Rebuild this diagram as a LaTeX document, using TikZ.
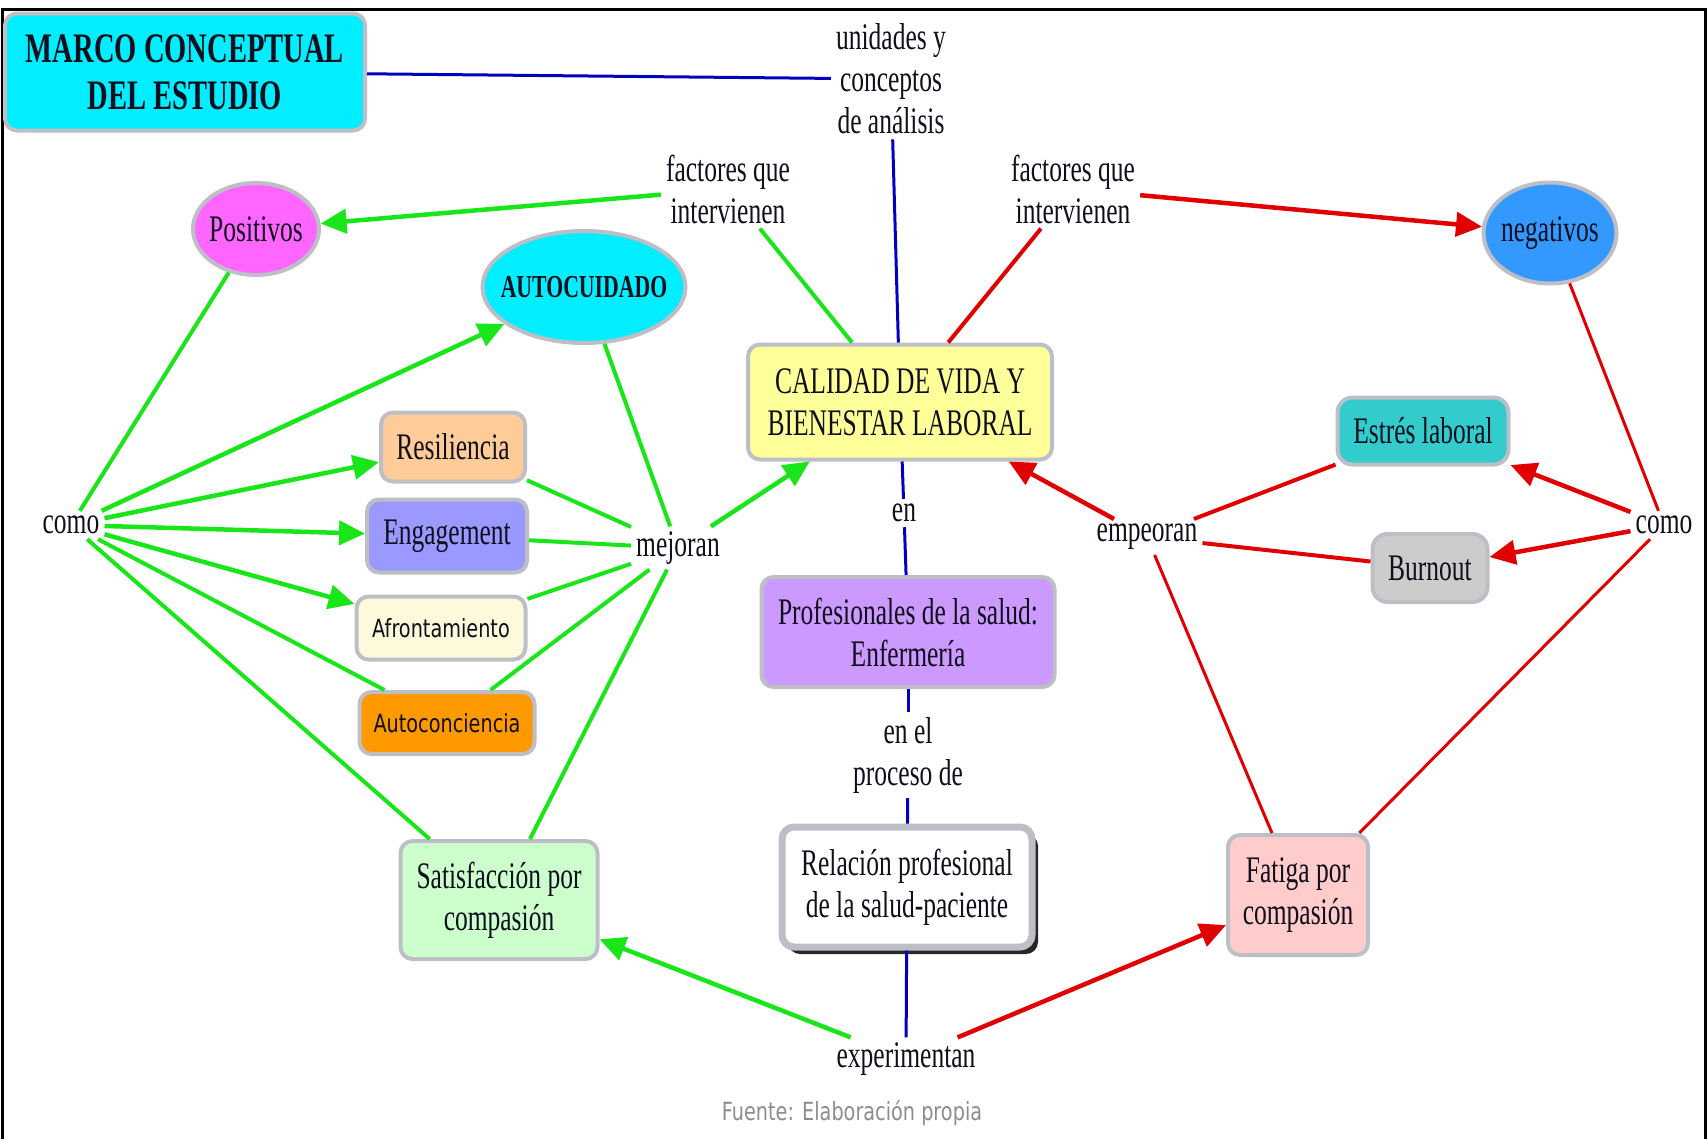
\documentclass[tikz,border=0pt]{standalone}
\usepackage{fontspec}
\setmainfont{Liberation Serif}[FakeStretch=0.68]
\newfontfamily\sansf{DejaVu Sans}[FakeStretch=0.77]
\usetikzlibrary{arrows.meta,shapes.geometric,shadows}

\definecolor{inkc}{RGB}{15,15,30}
\definecolor{edgec}{RGB}{190,190,198}
\definecolor{cyanc}{RGB}{0,238,255}
\definecolor{magc}{RGB}{255,102,255}
\definecolor{bluec}{RGB}{51,153,255}
\definecolor{yelc}{RGB}{255,255,153}
\definecolor{peachc}{RGB}{255,204,153}
\definecolor{lavc}{RGB}{153,153,255}
\definecolor{creamc}{RGB}{252,250,218}
\definecolor{orangec}{RGB}{255,153,0}
\definecolor{mintc}{RGB}{204,255,204}
\definecolor{purpc}{RGB}{204,153,255}
\definecolor{pinkc}{RGB}{255,204,204}
\definecolor{tealc}{RGB}{51,204,204}
\definecolor{grayc}{RGB}{204,204,204}
\definecolor{linkg}{RGB}{25,230,25}
\definecolor{linkr}{RGB}{225,0,0}
\definecolor{linkb}{RGB}{0,0,190}
\definecolor{fuentec}{RGB}{140,140,140}

\begin{document}
\begin{tikzpicture}[x=1pt,y=-1pt,
  lbl/.style={font=\fontsize{37.5}{42}\selectfont, text=inkc, align=center, inner sep=5pt},
  cbox/.style={lbl, draw=edgec, line width=4pt, rounded corners=12pt, inner sep=0pt},
  coval/.style={lbl, ellipse, draw=edgec, line width=4pt, inner sep=0pt},
  sanstxt/.style={font=\sansf\fontsize{25}{28}\selectfont},
  tipg/.style={-{Triangle[length=26pt,width=24pt]}},
  gl/.style={draw=linkg, line width=4pt},
  ga/.style={draw=linkg, line width=4.5pt, tipg},
  rl/.style={draw=linkr, line width=3pt},
  rlt/.style={draw=linkr, line width=4pt},
  ra/.style={draw=linkr, line width=4.5pt, tipg},
  bl/.style={draw=linkb, line width=3pt}
]
\useasboundingbox (0,0) rectangle (1708,1138);

% outer frame
\draw[line width=3pt] (2,1145) -- (2,9) -- (1705,9) -- (1705,1145);

% concepts
\node[cbox, fill=cyanc, minimum width=360pt, minimum height=117pt,
      font=\bfseries\fontsize{42}{47}\selectfont] (marco) at (185,72) {MARCO CONCEPTUAL\\DEL ESTUDIO};
\node[lbl] (unid) at (891,79) {unidades y\\conceptos\\de análisis};
\node[lbl] (facL) at (728,189) {factores que\\intervienen};
\node[lbl] (facR) at (1073,189) {factores que\\intervienen};
\node[coval, fill=magc, inner xsep=-4pt, minimum width=126pt, minimum height=92pt] (pos) at (256,229) {Positivos};
\node[coval, fill=bluec, inner xsep=-4pt, minimum width=133pt, minimum height=101pt] (neg) at (1550,233) {negativos};
\node[coval, fill=cyanc, inner xsep=-15pt, minimum width=203pt, minimum height=112pt,
      font=\bfseries\fontsize{32}{36}\selectfont] (auto) at (584,287) {AUTOCUIDADO};
\node[cbox, fill=yelc, minimum width=304pt, minimum height=115pt] (cal) at (900,402) {CALIDAD DE VIDA Y\\BIENESTAR LABORAL};
\node[lbl] (comoL) at (71,525) {como};
\node[cbox, fill=peachc, minimum width=144pt, minimum height=69pt] (resil) at (453,447) {Resiliencia};
\node[cbox, fill=lavc, minimum width=160pt, minimum height=73pt] (eng) at (447,536) {Engagement};
\node[cbox, fill=creamc, sanstxt, minimum width=169pt, minimum height=63pt] (afr) at (441,628) {Afrontamiento};
\node[cbox, fill=orangec, sanstxt, minimum width=175pt, minimum height=62pt] (autoc) at (447,723) {Autoconciencia};
\node[lbl] (mej) at (678,548) {mejoran};
\node[cbox, fill=mintc, minimum width=197pt, minimum height=118pt] (sat) at (499,900) {Satisfacción por\\compasión};
\node[lbl] (en) at (904,513) {en};
\node[cbox, fill=purpc, minimum width=293pt, minimum height=110pt] (prof) at (908,632) {Profesionales de la salud:\\Enfermería};
\node[lbl] (enel) at (908,755) {en el\\proceso de};
\node[cbox, fill=white, line width=7pt, minimum width=250pt, minimum height=120pt,
      drop shadow={shadow xshift=6pt, shadow yshift=-7pt, fill=black!85, opacity=1}] (rel) at (907,887) {Relación profesional\\de la salud-paciente};
\node[lbl] (exp) at (906,1059) {experimentan};
\node[cbox, fill=pinkc, minimum width=140pt, minimum height=120pt] (fat) at (1298,895) {Fatiga por\\compasión};
\node[lbl] (emp) at (1147,537) {empeoran};
\node[cbox, fill=tealc, minimum width=171pt, minimum height=67pt, rounded corners=15pt] (est) at (1423,431) {Estrés laboral};
\node[cbox, fill=grayc, minimum width=115pt, minimum height=68pt, rounded corners=15pt] (burn) at (1430,568) {Burnout};
\node[lbl] (comoR) at (1664,525) {como};
\node[sanstxt, text=fuentec] (src) at (852,1113) {Fuente: Elaboración propia};

% central spine
\draw[bl] (marco) -- (unid);
\draw[bl] (unid) -- (cal);
\draw[bl] (cal) -- (en);
\draw[bl] (en) -- (prof);
\draw[bl] (prof) -- (enel);
\draw[bl] (enel) -- (rel);
\draw[bl] (rel) -- (exp);

% positive factors
\draw[gl] (cal) -- (facL);
\draw[ga] (facL) -- (pos);
\draw[gl] (pos) -- (comoL);
\draw[ga] (comoL) -- (auto);
\draw[ga] (comoL) -- (resil);
\draw[ga] (comoL) -- (eng);
\draw[ga] (comoL) -- (afr);
\draw[gl] (comoL) -- (autoc);
\draw[gl] (comoL) -- (sat);
\draw[gl] (auto) -- (mej);
\draw[gl] (resil) -- (mej);
\draw[gl] (eng) -- (mej);
\draw[gl] (afr) -- (mej);
\draw[gl] (autoc) -- (mej);
\draw[gl] (sat) -- (mej);
\draw[ga] (mej) -- (cal);
\draw[ga] (exp) -- (sat);

% negative factors
\draw[rlt] (cal) -- (facR);
\draw[ra] (facR) -- (neg);
\draw[rl] (neg) -- (comoR);
\draw[ra] (comoR) -- (est);
\draw[ra] (comoR) -- (burn);
\draw[rl] (comoR) -- (fat);
\draw[rlt] (est) -- (emp);
\draw[rlt] (burn) -- (emp);
\draw[rl] (fat) -- (emp);
\draw[ra] (emp) -- (cal);
\draw[ra] (exp) -- (fat);
\end{tikzpicture}
\end{document}
